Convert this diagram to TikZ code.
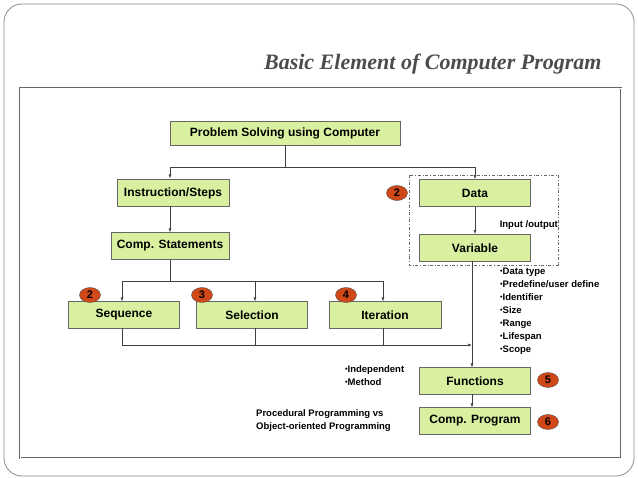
\documentclass[tikz,border=0pt]{standalone}
\usepackage{fontspec}
\setmainfont{Liberation Sans}
\newfontfamily\titlefont{Liberation Serif}
\usetikzlibrary{arrows.meta}
\definecolor{boxgreen}{HTML}{D8F0A0}
\definecolor{badgered}{HTML}{D04818}
\tikzset{
  blk/.style={draw=black!60, fill=boxgreen, line width=0.8pt, minimum height=27pt, font=\bfseries\fontsize{12}{13}\selectfont},
  badge/.style={ellipse, draw=black!70, fill=badgered, minimum width=21pt, minimum height=15pt, inner sep=0pt, font=\bfseries\fontsize{11}{12}\selectfont},
  note/.style={align=left, inner sep=0pt, font=\bfseries\fontsize{9.5}{13}\selectfont},
  conn/.style={draw=black!75, line width=0.6pt},
  arr/.style={conn, -{Latex[length=4pt,width=3pt]}}
}
\usetikzlibrary{shapes.geometric}
\newcommand{\bul}{\raisebox{0.15ex}{\scalebox{0.75}{\textbullet}}}
\begin{document}
\begin{tikzpicture}[x=1pt,y=-1pt]
\useasboundingbox (0,0) rectangle (638,478);
% frames
\draw[black!45, line width=0.8pt, rounded corners=18pt] (4,4) rectangle (634,476);
\draw[black!60, line width=2.4pt] (20,88) rectangle (621,458);
\draw[white, line width=0.6pt] (20,88) rectangle (621,458);
\node[anchor=east, text=black!70, font=\titlefont\bfseries\itshape\fontsize{22}{24}\selectfont] (title) at (605,64) {Basic Element of Computer Program};
% dashed group
\draw[black!60, dash dot, line width=0.6pt] (409,175) rectangle (558,265);
% boxes
\node[blk, minimum width=230pt, minimum height=24pt] (prob) at (285,133) {Problem Solving using Computer};
\node[blk, minimum width=112pt] (instr) at (173,193) {Instruction/Steps};
\node[blk, minimum width=118pt] (stmt) at (170,246) {Comp. Statements};
\node[blk, minimum width=111pt] (data) at (475,193) {Data};
\node[blk, minimum width=111pt] (var) at (475,248) {Variable};
\node[blk, minimum width=111pt] (seq) at (124,315) {Sequence};
\node[blk, minimum width=111pt] (sel) at (252,315) {Selection};
\node[blk, minimum width=112pt] (iter) at (385,315) {Iteration};
\node[blk, minimum width=111pt] (func) at (475,381) {Functions};
\node[blk, minimum width=111pt] (prog) at (475,421) {Comp. Program};
% badges
\node[badge] (b1) at (397,193) {2};
\node[badge] (b2) at (90,295) {2};
\node[badge] (b3) at (202,295) {3};
\node[badge] (b4) at (346,295) {4};
\node[badge] (b5) at (548,380) {5};
\node[badge] (b6) at (548,422) {6};
% notes
\node[note, anchor=south east] (io) at (558,230) {Input /output};
\node[note, anchor=north west] (attr) at (500,268) {\bul Data type\\\bul Predefine/user define\\\bul Identifier\\\bul Size\\\bul Range\\\bul Lifespan\\\bul Scope};
\node[note, anchor=north west] (fnote) at (345,365) {\bul Independent\\\bul Method};
\node[note, anchor=north west] (pnote) at (256,409) {Procedural Programming vs\\Object-oriented Programming};
% connectors
\coordinate (top) at (prob.south |- 0,167);
\coordinate (split) at (stmt.south |- 0,281);
\coordinate (join) at (122,345);
\draw[conn] (prob.south) -- (top);
\draw[arr] (top) -| (170,178.5);
\draw[arr] (top) -| (data.north);
\draw[arr] (170,206.5) -- (170,232.5);
\draw[arr] (data) -- (var);
\draw[conn] (stmt.south) -- (split);
\draw[arr] (split) -| (122,301.5);
\draw[arr] (split) -| (383,301.5);
\draw[arr] (255,281) -- (255,301.5);
\draw[conn] (122,328.5) -- (join);
\draw[conn] (255,328.5) -- (255,345);
\draw[conn] (383,328.5) -- (383,345);
\draw[arr] (join) -- (472,345);
\draw[arr] (472,261.5) -- (472,367.5);
\draw[arr] (472,394.5) -- (472,407.5);
\end{tikzpicture}
\end{document}
